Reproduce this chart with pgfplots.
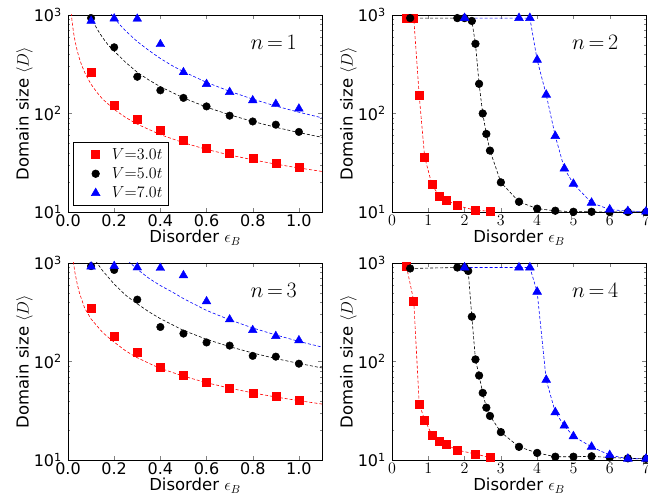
\RequirePackage{fix-cm}
\documentclass[border=0pt]{standalone}
\usepackage{fontspec}
\setmainfont{DejaVu Sans}
\usepackage{pgfplots}
\pgfplotsset{compat=1.18}

\tikzset{
  dsh/.style={dash pattern=on 3pt off 2pt, line width=0.6pt},
  sqm/.style={mark=square*, mark size=4pt, red, mark options={solid, fill=red}},
  cim/.style={mark=*, mark size=3.8pt, black, mark options={solid, fill=black}},
  trm/.style={mark=triangle*, mark size=5pt, blue, mark options={solid, fill=blue}},
  nlab/.style={font=\fontsize{22}{26}\selectfont},
}
\pgfplotsset{
  every axis/.append style={
    scale only axis, width=254pt, height=197pt,
    ymin=10, ymax=1000,
    ytick={10,100,1000},
    yticklabels={10\textsuperscript{1},10\textsuperscript{2},10\textsuperscript{3}},
    minor ytick={20,30,40,50,60,70,80,90,200,300,400,500,600,700,800,900},
    tick align=inside,
    major tick length=4pt, minor tick length=2pt,
    axis line style={black, line width=0.8pt},
    tick label style={font=\fontsize{16}{19}\selectfont},
    yticklabel style={inner sep=0pt, xshift=-6pt},
    xticklabel style={inner sep=0pt, yshift=-2.5pt},
    label style={font=\fontsize{16.5}{19}\selectfont},
    xlabel={Disorder $\epsilon_B$},
    ylabel={Domain size $\langle D\rangle$},
    xlabel style={at={(axis description cs:0.5,-0.0914)}, anchor=north, inner sep=0pt},
    ylabel style={at={(axis description cs:-0.138,0.5)}, anchor=south, inner sep=0pt},
  },
}

\begin{document}
\begin{tikzpicture}
\useasboundingbox (0,0) rectangle (648pt,497pt);

% ---- n = 1 ----
\begin{semilogyaxis}[at={(68pt,285pt)}, anchor=south west,
  xmin=0, xmax=1.1, xtick={0,0.2,0.4,0.6,0.8,1.0},
  xticklabels={0.0,0.2,0.4,0.6,0.8,1.0},
  legend style={at={(0.02,0.032)}, anchor=south west, draw=black,
    line width=0.6pt, font=\fontsize{16}{19}\selectfont,
    inner xsep=4pt, inner ysep=4pt, row sep=3pt, cells={anchor=west}},
  legend image code/.code={\path (0pt,0pt) (32pt,0pt);
    \draw[#1] plot coordinates {(18pt,0pt)};}]
\addplot[red, dsh, forget plot] coordinates {(0.014,1053)(0.017,894)(0.02,778)(0.025,644)(0.03,552)(0.04,432)(0.05,357)(0.06,306)(0.075,253)(0.1,198)(0.125,164)(0.15,140)(0.2,110)(0.25,91)(0.3,77.9)(0.4,61)(0.5,50.5)(0.6,43.2)(0.7,37.9)(0.8,33.9)(0.9,30.6)(1.0,28)(1.1,25.8)};
\addplot[black, dsh, forget plot] coordinates {(0.09,1071)(0.1,947)(0.11,847)(0.12,765)(0.135,666)(0.15,589)(0.175,492)(0.2,430)(0.25,330)(0.3,262)(0.35,219)(0.4,187)(0.5,144)(0.6,116)(0.7,97)(0.8,83)(0.9,72.4)(1.0,64)(1.1,57.3)};
\addplot[blue, dsh, forget plot] coordinates {(0.185,1040)(0.19,1003)(0.2,934)(0.225,795)(0.25,688)(0.3,537)(0.35,437)(0.4,362)(0.45,307)(0.5,266)(0.6,207)(0.7,168)(0.8,140)(0.9,119)(1.0,103)(1.1,90.4)};
\addplot[sqm, only marks] coordinates {(0.1,262)(0.2,122)(0.3,88)(0.4,68)(0.5,53)(0.6,44.5)(0.7,39.5)(0.8,35)(0.9,31)(1.0,28.7)};
\addplot[cim, only marks] coordinates {(0.1,930)(0.2,470)(0.3,236)(0.4,172)(0.5,144)(0.6,118)(0.7,95)(0.8,83)(0.9,77)(1.0,65)};
\addplot[trm, only marks] coordinates {(0.1,870)(0.2,920)(0.3,915)(0.4,505)(0.5,262)(0.6,199)(0.7,165)(0.8,136)(0.9,125)(1.0,112)};
\legend{$V{=}3.0t$,$V{=}5.0t$,$V{=}7.0t$}
\node[nlab] at (rel axis cs:0.81,0.86) {$n\,{=}\,1$};
\end{semilogyaxis}

% ---- n = 2 ----
\begin{semilogyaxis}[at={(392pt,285pt)}, anchor=south west,
  xmin=0, xmax=7, xtick={0,1,2,3,4,5,6,7}]
\addplot[sqm, dsh] coordinates {(0.4,925)(0.5,925)(0.6,925)(0.75,152)(0.9,36)(1.1,19)(1.3,14.5)(1.5,13.2)(1.8,11.6)(2.3,10.4)(2.7,10.2)};
\addplot[cim, dsh] coordinates {(0.5,930)(1.8,930)(2.0,930)(2.2,870)(2.3,510)(2.4,200)(2.5,100)(2.6,62)(2.7,42)(3.0,20)(3.5,12.7)(4.0,10.8)(4.5,10.3)(5.0,10.05)(5.5,10.05)(6.0,10)(6.5,10)(7.0,10)};
\addplot[trm, dsh] coordinates {(2.0,930)(3.5,930)(3.8,930)(4.0,350)(4.25,155)(4.5,59)(4.75,27.6)(5.0,19.3)(5.5,12.4)(6.0,10.6)(6.5,10.2)(7.0,10.1)};
\node[nlab] at (rel axis cs:0.80,0.86) {$n\,{=}\,2$};
\end{semilogyaxis}

% ---- n = 3 ----
\begin{semilogyaxis}[at={(68pt,37pt)}, anchor=south west,
  xmin=0, xmax=1.1, xtick={0,0.2,0.4,0.6,0.8,1.0},
  xticklabels={0.0,0.2,0.4,0.6,0.8,1.0}]
\addplot[red, dsh] coordinates {(0.023,1034)(0.024,991)(0.03,802)(0.04,610)(0.05,493)(0.072,349)(0.1,270)(0.15,197)(0.19,164)(0.25,128)(0.294,111)(0.35,96)(0.395,86)(0.5,71)(0.6,60.9)(0.7,53.6)(0.8,48)(0.9,43.6)(1.0,40)(1.1,37)};
\addplot[black, dsh] coordinates {(0.12,1050)(0.126,1000)(0.15,835)(0.2,610)(0.25,470)(0.3,385)(0.35,320)(0.4,272)(0.5,207)(0.6,168)(0.7,141.5)(0.8,122)(0.9,107)(1.0,95.6)(1.1,86)};
\addplot[blue, dsh] coordinates {(0.26,1050)(0.27,1000)(0.3,865)(0.35,700)(0.4,590)(0.45,510)(0.5,435)(0.6,330)(0.7,265)(0.8,219)(0.9,186)(1.0,160)(1.1,140)};
\addplot[sqm, only marks] coordinates {(0.1,350)(0.2,182)(0.3,125)(0.4,87)(0.5,72)(0.6,62)(0.7,54)(0.8,48)(0.9,44)(1.0,40.5)};
\addplot[cim, only marks] coordinates {(0.1,930)(0.2,850)(0.3,425)(0.4,224)(0.5,192)(0.6,156)(0.7,145)(0.8,114)(0.9,112)(1.0,95)};
\addplot[trm, only marks] coordinates {(0.1,920)(0.2,930)(0.3,900)(0.4,890)(0.5,750)(0.6,408)(0.7,267)(0.8,208)(0.9,181)(1.0,164)};
\node[nlab] at (rel axis cs:0.81,0.86) {$n\,{=}\,3$};
\end{semilogyaxis}

% ---- n = 4 ----
\begin{semilogyaxis}[at={(392pt,37pt)}, anchor=south west,
  xmin=0, xmax=7, xtick={0,1,2,3,4,5,6,7}]
\addplot[sqm, dsh] coordinates {(0.4,920)(0.6,410)(0.75,37)(0.9,25.5)(1.1,18)(1.3,15.4)(1.5,14.3)(1.8,12.6)(2.3,11.5)(2.7,10.6)};
\addplot[cim, dsh] coordinates {(0.5,880)(1.8,900)(2.0,900)(2.1,830)(2.2,285)(2.3,105)(2.4,72)(2.5,48)(2.6,34)(2.7,28)(3.0,19.2)(3.5,13.6)(4.0,11.8)(4.5,10.8)(5.0,10.8)(5.5,10.9)(6.0,10.6)(6.5,10.4)(7.0,10.3)};
\addplot[trm, dsh] coordinates {(2.0,900)(3.5,900)(3.8,900)(4.0,510)(4.25,65)(4.5,30.5)(4.75,22.3)(5.0,17.4)(5.5,13.6)(6.0,11.2)(6.5,10.3)(7.0,10.3)};
\node[nlab] at (rel axis cs:0.80,0.86) {$n\,{=}\,4$};
\end{semilogyaxis}
\end{tikzpicture}
\end{document}
